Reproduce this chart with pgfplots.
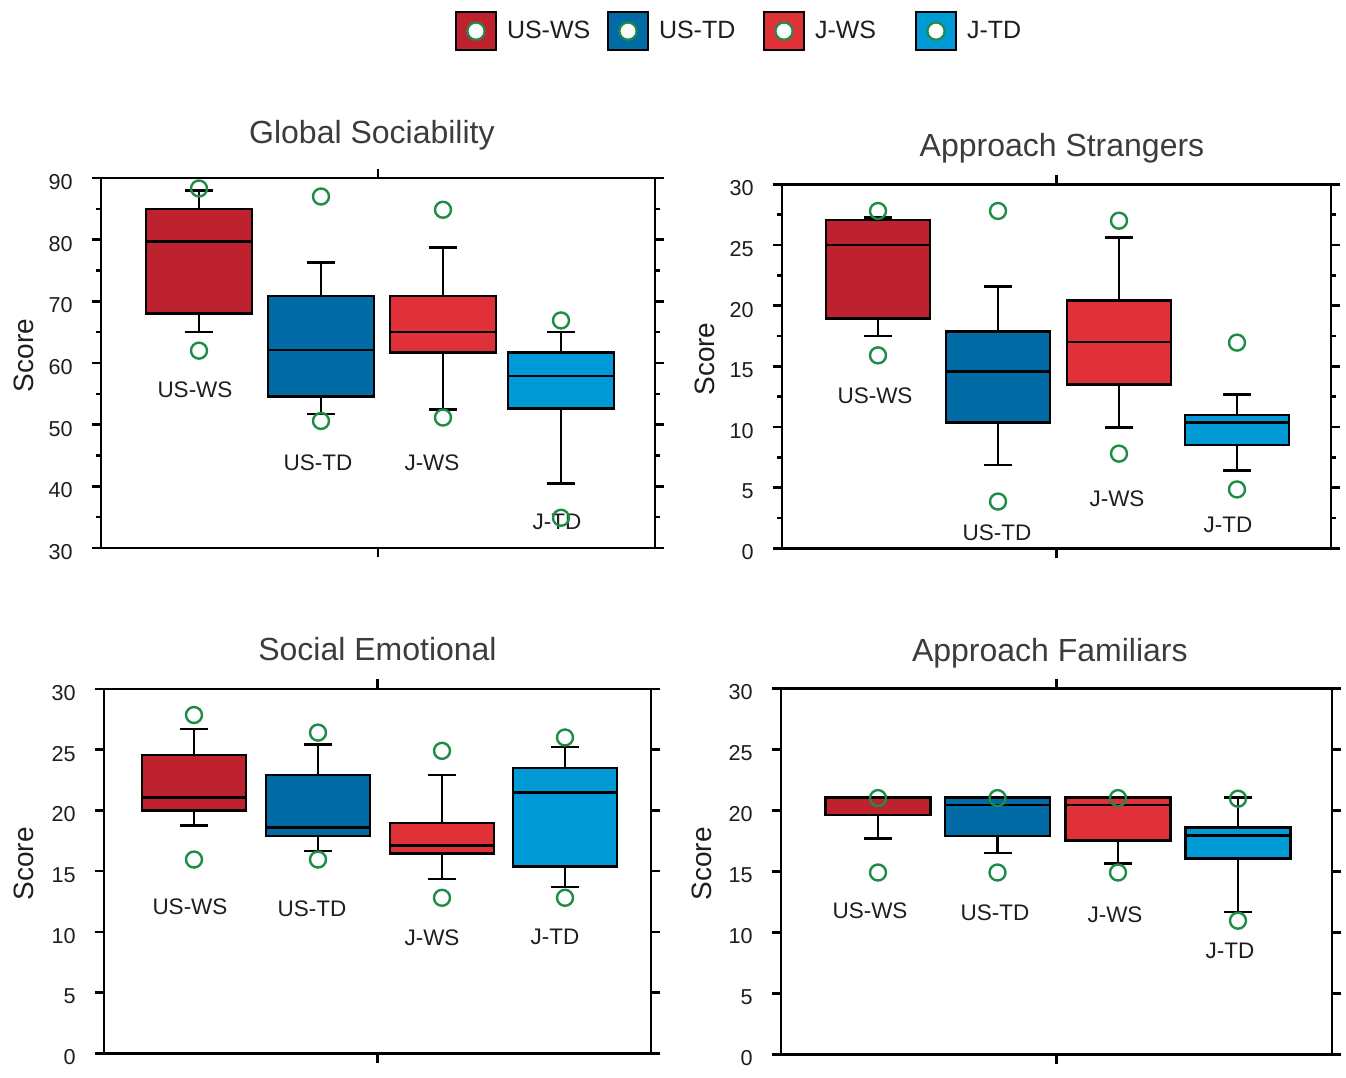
\documentclass[border=0pt]{standalone}
\usepackage{fontspec}
\setmainfont{Liberation Sans}
\usepackage{pgfplots}
\pgfplotsset{compat=1.18}
\usepgfplotslibrary{statistics}
\definecolor{usws}{RGB}{190,34,46}
\definecolor{ustd}{RGB}{0,107,165}
\definecolor{jws}{RGB}{224,49,57}
\definecolor{jtd}{RGB}{0,155,215}
\definecolor{outg}{RGB}{30,140,70}
\definecolor{titlec}{RGB}{60,60,60}
\definecolor{txt}{RGB}{30,30,30}
\tikzset{cat/.style={font=\fontsize{11.25}{13}\selectfont, text=txt}}
\pgfplotsset{
  panel/.style={
    scale only axis, anchor=south west,
    axis line style={line width=1.25pt, black},
    every tick/.style={line width=1.25pt, black},
    major tick length=4.7pt, minor tick length=2.5pt,
    tick align=outside,
    xtick pos=both, ytick pos=both,
    xticklabels={},
    /pgf/number format/assume math mode=true,
    yticklabel style={font=\fontsize{10.8}{12}\selectfont, text=txt, xshift=-6pt, yshift=-2pt},
    ylabel={Score},
    ylabel style={font=\fontsize{14}{16}\selectfont, text=txt, anchor=center},
    title style={font=\fontsize{16}{19}\selectfont, text=titlec, anchor=center},
    clip=false,
    boxplot/draw direction=y,
  },
  bx/.style={draw=black, line width=1.3pt, fill=#1, mark=o, mark size=4pt,
    mark options={draw=outg, fill=none, line width=1.2pt, solid}},
}
\begin{document}
\begin{tikzpicture}
\path (0,0) rectangle (673pt,535.5pt);

% ---------- Panel 1: Global Sociability ----------
\begin{axis}[panel, at={(50.5pt,261.5pt)}, width=277pt, height=185pt,
  xmin=0, xmax=554, xtick={277}, ymin=30, ymax=90, ytick={30,40,...,90}, minor y tick num=1,
  title={Global Sociability}, title style={at={(axis description cs:0.489,1)}, yshift=15.5pt},
  ylabel style={at={(axis description cs:-0.139,0.52)}},
  legend style={at={(axis description cs:1.150,1.397)}, anchor=center, draw=none, fill=none,
    legend columns=4, font=\fontsize{12.5}{14}\selectfont, text=txt,
    nodes={inner sep=0pt}, /tikz/every even column/.append style={column sep=0pt},
    /tikz/every odd column/.append style={column sep=0pt}},
  legend cell align=left]
\addlegendimage{legend image code/.code={\draw[fill=usws,draw=black,line width=1pt] (0pt,-9.5pt) rectangle (20pt,9.5pt); \draw[outg,fill=white,line width=1.1pt] (10pt,0pt) circle (4.3pt);}}
\addlegendentry{\hspace{5pt}\makebox[50pt][l]{US-WS}}
\addlegendimage{legend image code/.code={\draw[fill=ustd,draw=black,line width=1pt] (0pt,-9.5pt) rectangle (20pt,9.5pt); \draw[outg,fill=white,line width=1.1pt] (10pt,0pt) circle (4.3pt);}}
\addlegendentry{\hspace{5pt}\makebox[52pt][l]{US-TD}}
\addlegendimage{legend image code/.code={\draw[fill=jws,draw=black,line width=1pt] (0pt,-9.5pt) rectangle (20pt,9.5pt); \draw[outg,fill=white,line width=1.1pt] (10pt,0pt) circle (4.3pt);}}
\addlegendentry{\hspace{5pt}\makebox[50pt][l]{J-WS}}
\addlegendimage{legend image code/.code={\draw[fill=jtd,draw=black,line width=1pt] (0pt,-9.5pt) rectangle (20pt,9.5pt); \draw[outg,fill=white,line width=1.1pt] (10pt,0pt) circle (4.3pt);}}
\addlegendentry{\hspace{5pt}J-TD}
\addplot[bx=usws, boxplot prepared={draw position=98, lower whisker=65, lower quartile=68, median=79.7, upper quartile=85, upper whisker=88, box extend=106, whisker extend=28}] coordinates {(0,88.3) (0,62)};
\addplot[bx=ustd, boxplot prepared={draw position=220, lower whisker=51.7, lower quartile=54.6, median=62.1, upper quartile=70.85, upper whisker=76.3, box extend=106, whisker extend=28}] coordinates {(0,87.0) (0,50.6)};
\addplot[bx=jws, boxplot prepared={draw position=342, lower whisker=52.5, lower quartile=61.7, median=65.0, upper quartile=70.85, upper whisker=78.7, box extend=106, whisker extend=28}] coordinates {(0,84.85) (0,51.15)};
\addplot[bx=jtd, boxplot prepared={draw position=460, lower whisker=40.5, lower quartile=52.6, median=57.9, upper quartile=61.7, upper whisker=65.0, box extend=106, whisker extend=28}] coordinates {(0,66.9) (0,34.9)};
\node[cat] at (axis cs:94,55.6) {US-WS};
\node[cat] at (axis cs:217,43.8) {US-TD};
\node[cat] at (axis cs:331,43.8) {J-WS};
\node[cat] at (axis cs:456,34.2) {J-TD};
\end{axis}

% ---------- Panel 2: Approach Strangers ----------
\begin{axis}[panel, at={(391pt,261.35pt)}, width=274.5pt, height=182pt,
  xmin=0, xmax=549, xtick={274.5}, ymin=0, ymax=30, ytick={0,5,...,30}, minor y tick num=1,
  title={Approach Strangers}, title style={at={(axis description cs:0.51,1)}, yshift=12pt},
  ylabel style={at={(axis description cs:-0.140,0.52)}}]
\addplot[bx=usws, boxplot prepared={draw position=96, lower whisker=17.5, lower quartile=18.95, median=25.0, upper quartile=27.05, upper whisker=27.25, box extend=104, whisker extend=28}] coordinates {(0,27.8) (0,15.9)};
\addplot[bx=ustd, boxplot prepared={draw position=216, lower whisker=6.85, lower quartile=10.35, median=14.55, upper quartile=17.85, upper whisker=21.6, box extend=104, whisker extend=28}] coordinates {(0,27.8) (0,3.85)};
\addplot[bx=jws, boxplot prepared={draw position=337, lower whisker=9.95, lower quartile=13.5, median=17.0, upper quartile=20.4, upper whisker=25.6, box extend=104, whisker extend=28}] coordinates {(0,27.0) (0,7.8)};
\addplot[bx=jtd, boxplot prepared={draw position=455, lower whisker=6.4, lower quartile=8.5, median=10.35, upper quartile=11.0, upper whisker=12.65, box extend=104, whisker extend=28}] coordinates {(0,16.95) (0,4.85)};
\node[cat] at (axis cs:93,12.6) {US-WS};
\node[cat] at (axis cs:215,1.3) {US-TD};
\node[cat] at (axis cs:335,4.1) {J-WS};
\node[cat] at (axis cs:446,1.9) {J-TD};
\end{axis}

% ---------- Panel 3: Social Emotional ----------
\begin{axis}[panel, at={(52pt,8.85pt)}, width=273.5pt, height=182.2pt,
  xmin=0, xmax=547, xtick={273.5}, ymin=0, ymax=30, ytick={0,5,...,30},
  title={Social Emotional}, title style={at={(axis description cs:0.5,1)}, yshift=14pt},
  ylabel style={at={(axis description cs:-0.146,0.52)}}]
\addplot[bx=usws, boxplot prepared={draw position=90, lower whisker=18.75, lower quartile=20.0, median=21.05, upper quartile=24.55, upper whisker=26.7, box extend=104, whisker extend=28}] coordinates {(0,27.85) (0,15.95)};
\addplot[bx=ustd, boxplot prepared={draw position=214, lower whisker=16.65, lower quartile=17.9, median=18.6, upper quartile=22.9, upper whisker=25.4, box extend=104, whisker extend=28}] coordinates {(0,26.4) (0,15.95)};
\addplot[bx=jws, boxplot prepared={draw position=338, lower whisker=14.35, lower quartile=16.45, median=17.1, upper quartile=18.95, upper whisker=22.9, box extend=104, whisker extend=28}] coordinates {(0,24.9) (0,12.8)};
\addplot[bx=jtd, boxplot prepared={draw position=461, lower whisker=13.7, lower quartile=15.4, median=21.45, upper quartile=23.5, upper whisker=25.2, box extend=104, whisker extend=28}] coordinates {(0,26.0) (0,12.8)};
\node[cat] at (axis cs:86,12.1) {US-WS};
\node[cat] at (axis cs:208,11.86) {US-TD};
\node[cat] at (axis cs:328,9.55) {J-WS};
\node[cat] at (axis cs:451,9.55) {J-TD};
\end{axis}

% ---------- Panel 4: Approach Familiars ----------
\begin{axis}[panel, at={(390.5pt,8.35pt)}, width=275.5pt, height=183pt,
  xmin=0, xmax=551, xtick={275.5}, ymin=0, ymax=30, ytick={0,5,...,30},
  title={Approach Familiars}, title style={at={(axis description cs:0.488,1)}, yshift=11.5pt},
  ylabel style={at={(axis description cs:-0.143,0.52)}}]
\addplot[bx=usws, boxplot prepared={draw position=97, lower whisker=17.7, lower quartile=19.6, median=21.0, upper quartile=21.05, upper whisker=21.05, box extend=105, whisker extend=28}] coordinates {(0,21.0) (0,14.9)};
\addplot[bx=ustd, boxplot prepared={draw position=216.5, lower whisker=16.5, lower quartile=17.9, median=20.45, upper quartile=21.05, upper whisker=21.05, box extend=105, whisker extend=28}] coordinates {(0,21.0) (0,14.9)};
\addplot[bx=jws, boxplot prepared={draw position=337, lower whisker=15.65, lower quartile=17.5, median=20.45, upper quartile=21.05, upper whisker=21.05, box extend=105, whisker extend=28}] coordinates {(0,21.0) (0,14.9)};
\addplot[bx=jtd, boxplot prepared={draw position=457, lower whisker=11.65, lower quartile=16.05, median=17.95, upper quartile=18.6, upper whisker=21.05, box extend=105, whisker extend=28}] coordinates {(0,20.95) (0,10.95)};
\node[cat] at (axis cs:89,11.75) {US-WS};
\node[cat] at (axis cs:214,11.6) {US-TD};
\node[cat] at (axis cs:334,11.4) {J-WS};
\node[cat] at (axis cs:449,8.47) {J-TD};
\end{axis}
\end{tikzpicture}
\end{document}
